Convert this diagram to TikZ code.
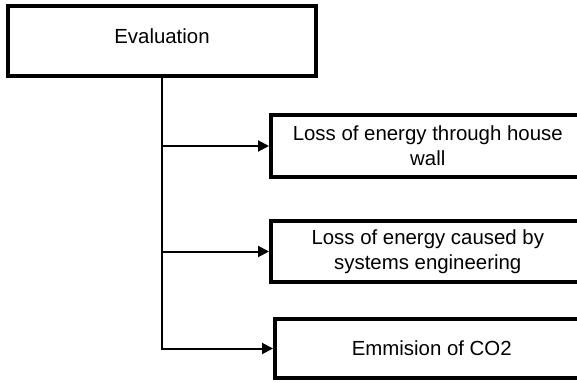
\documentclass[tikz,border=0pt]{standalone}
\usepackage{fontspec}
\setmainfont{Liberation Sans}
\usetikzlibrary{arrows.meta}
\begin{document}
\begin{tikzpicture}[x=1pt,y=-1pt,
  box/.style={draw=black, line width=3.5pt, fill=white, rectangle, inner sep=0pt,
    align=center, font=\fontsize{20.4}{25}\selectfont},
  link/.style={draw=black, line width=2pt},
  tip/.style={-{Triangle[length=11pt,width=11pt]}}]
  \useasboundingbox (0,0) rectangle (577,382);
  \clip (0,0) rectangle (577,382);
  % top-level item
  \node[box, minimum width=308pt, minimum height=70pt, text depth=10pt]
    (eval) at (162,41) {Evaluation};
  % evaluation criteria
  \node[box, anchor=west, minimum width=314pt, minimum height=62pt]
    (wall) at (269,146) {Loss of energy through house\\wall};
  \node[box, anchor=west, minimum width=314pt, minimum height=61pt]
    (sys) at (269,251.5) {Loss of energy caused by\\systems engineering};
  \node[box, anchor=west, minimum width=314pt, minimum height=59pt]
    (co2) at (273,348.5) {Emmision of CO2};
  % tree connectors
  \draw[link, tip] (eval.south) |- (co2.west);
  \draw[link, tip] (eval.south |- wall.west) -- (wall.west);
  \draw[link, tip] (eval.south |- sys.west) -- (sys.west);
\end{tikzpicture}
\end{document}
